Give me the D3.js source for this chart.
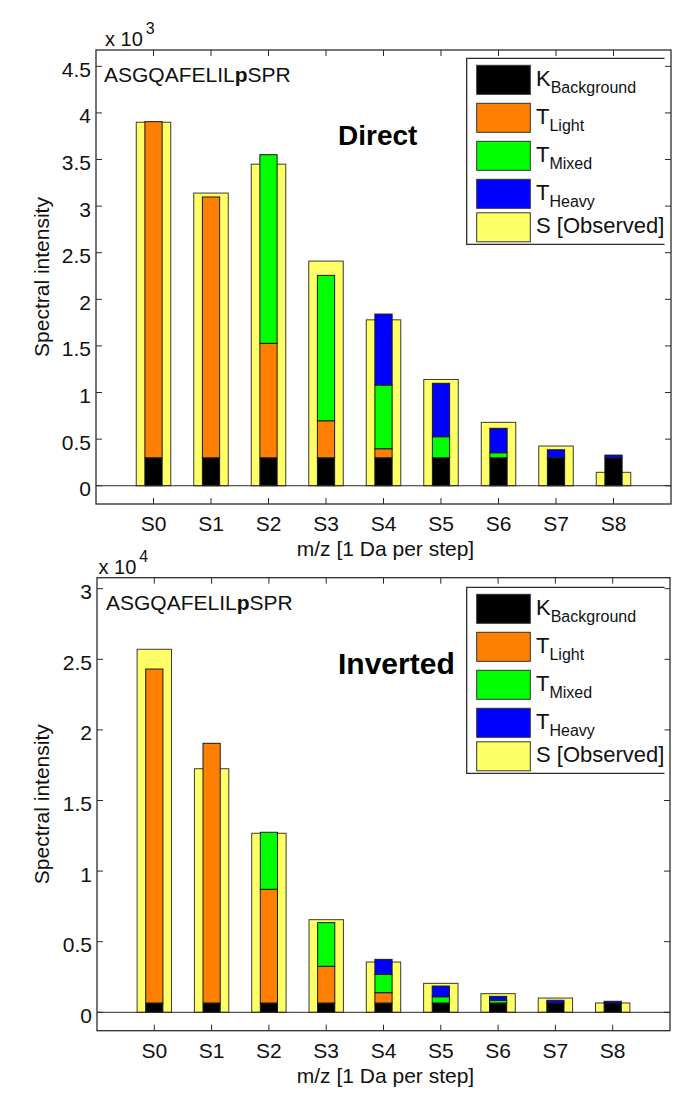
<!DOCTYPE html>
<html>
<head>
<meta charset="utf-8">
<script src="https://cdn.jsdelivr.net/npm/d3@7"></script>
<style>
  html, body { margin: 0; padding: 0; background: #fff; }
  svg { display: block; font-family: "Liberation Sans", Arial, Helvetica, sans-serif; }
</style>
</head>
<body>
<svg id="chart" width="685" height="1110"></svg>
<script>
// ---------- data ----------
const categories = ["S0", "S1", "S2", "S3", "S4", "S5", "S6", "S7", "S8"];

// Direct (x 10^3)
const directObserved   = [3900, 3140, 3450, 2410, 1780, 1140, 680, 426, 144];
const directBackground = [300, 300, 300, 300, 300, 300, 300, 300, 300];
const directLight      = [3606, 2798, 1228, 397, 97, 0, 0, 0, 0];
const directMixed      = [0, 0, 2024, 1560, 683, 226, 54, 0, 0];
const directHeavy      = [0, 0, 0, 0, 762, 573, 262, 86, 29];
const directTickLabels = ["0", "0.5", "1", "1.5", "2", "2.5", "3", "3.5", "4", "4.5"];

// Inverted (x 10^4)
const invObserved   = [25710, 17250, 12680, 6560, 3560, 2050, 1320, 1010, 660];
const invBackground = [660, 660, 660, 660, 660, 660, 660, 660, 660];
const invLight      = [23650, 18390, 8050, 2600, 730, 0, 0, 0, 0];
const invMixed      = [0, 0, 4040, 3090, 1300, 440, 190, 0, 0];
const invHeavy      = [0, 0, 0, 0, 1060, 760, 280, 190, 120];
const invTickLabels = ["0", "0.5", "1", "1.5", "2", "2.5", "3"];

const legendMain = ["K", "T", "T", "T", "S [Observed]"];
const legendSub  = ["Background", "Light", "Mixed", "Heavy", ""];
const peptide = ["ASGQAFELIL", "p", "SPR"];
const xLabel = "m/z [1 Da per step]";
const yLabel = "Spectral intensity";

const colors = {
  background: "#000000",
  light: "#FF8000",
  mixed: "#00FF00",
  heavy: "#0000FF",
  observed: "#FFFF66"
};
const legendColors = [colors.background, colors.light, colors.mixed, colors.heavy, colors.observed];

const svg = d3.select("#chart");
const axisColor = "#2b2b2b";

function drawPanel(p) {
  const g = svg.append("g");
  const x = d3.scaleLinear().domain([-1, 9]).range([p.left, p.right]);
  const y = d3.scaleLinear().domain([p.yMin, p.yMax]).range([p.bottom, p.top]);
  const idx = categories.map((c, i) => i);

  // observed (yellow, wide)
  g.selectAll("rect.obs").data(idx).enter().append("rect")
    .attr("x", i => x(i - 0.3))
    .attr("width", i => x(i + 0.3) - x(i - 0.3))
    .attr("y", i => y(p.observed[i]))
    .attr("height", i => y(0) - y(p.observed[i]))
    .attr("fill", colors.observed)
    .attr("stroke", "#3a3a3a").attr("stroke-width", 1);

  // stacked (narrow)
  const keys = ["background", "light", "mixed", "heavy"];
  const rows = idx.map(i => ({ i, background: p.background[i], light: p.light[i], mixed: p.mixed[i], heavy: p.heavy[i] }));
  const stack = d3.stack().keys(keys)(rows);
  stack.forEach(layer => {
    g.selectAll(null).data(layer.filter(d => d[1] - d[0] > 0)).enter().append("rect")
      .attr("x", d => x(d.data.i - 0.15))
      .attr("width", d => x(d.data.i + 0.15) - x(d.data.i - 0.15))
      .attr("y", d => y(d[1]))
      .attr("height", d => y(d[0]) - y(d[1]))
      .attr("fill", colors[layer.key])
      .attr("stroke", "#1a1a1a").attr("stroke-width", 1);
  });

  // zero line
  g.append("line")
    .attr("x1", p.left).attr("x2", p.right)
    .attr("y1", y(0)).attr("y2", y(0))
    .attr("stroke", axisColor).attr("stroke-width", 1);

  // axes box
  g.append("rect")
    .attr("x", p.left).attr("y", p.top)
    .attr("width", p.right - p.left).attr("height", p.bottom - p.top)
    .attr("fill", "none").attr("stroke", axisColor).attr("stroke-width", 1.3);

  const tickLen = 6;
  const yTickVals = p.tickLabels.map(t => +t * p.scale);
  yTickVals.forEach((v, k) => {
    g.append("line").attr("x1", p.left).attr("x2", p.left + tickLen)
      .attr("y1", y(v)).attr("y2", y(v)).attr("stroke", axisColor);
    g.append("line").attr("x1", p.right).attr("x2", p.right - tickLen)
      .attr("y1", y(v)).attr("y2", y(v)).attr("stroke", axisColor);
    g.append("text").attr("x", p.left - 5).attr("y", y(v) + 10.5)
      .attr("text-anchor", "end").attr("font-size", 21).attr("fill", "#111")
      .text(p.tickLabels[k]);
  });
  idx.forEach(i => {
    g.append("line").attr("x1", x(i)).attr("x2", x(i))
      .attr("y1", p.bottom).attr("y2", p.bottom - tickLen).attr("stroke", axisColor);
    g.append("line").attr("x1", x(i)).attr("x2", x(i))
      .attr("y1", p.top).attr("y2", p.top + tickLen).attr("stroke", axisColor);
    g.append("text").attr("x", x(i)).attr("y", p.bottom + 27)
      .attr("text-anchor", "middle").attr("font-size", 21).attr("fill", "#111")
      .text(categories[i]);
  });

  // exponent label
  const ex = g.append("text").attr("x", p.expX).attr("y", p.top - 4)
    .attr("font-size", 20).attr("fill", "#111");
  ex.append("tspan").text("x 10");
  ex.append("tspan").attr("dx", 3).attr("dy", -12).attr("font-size", 16).text(p.exponent);

  // peptide sequence
  const seq = g.append("text").attr("x", p.seqX).attr("y", p.top + 32)
    .attr("font-size", 21).attr("fill", "#111");
  seq.append("tspan").text(peptide[0]);
  seq.append("tspan").attr("font-weight", "bold").text(peptide[1]);
  seq.append("tspan").text(peptide[2]);

  // title
  g.append("text").attr("x", 338).attr("y", p.titleY)
    .attr("font-size", p.titleSize).attr("font-weight", "bold").attr("fill", "#000")
    .text(p.title);

  // axis labels
  g.append("text").attr("x", (p.left + p.right) / 2 + 2).attr("y", p.bottom + 52)
    .attr("text-anchor", "middle").attr("font-size", 21).attr("fill", "#111")
    .text(xLabel);
  g.append("text")
    .attr("transform", `translate(48.5,${(p.top + p.bottom) / 2}) rotate(-90)`)
    .attr("text-anchor", "middle").attr("font-size", 21).attr("fill", "#111")
    .text(yLabel);

  // legend
  const lt = p.legendTop, ll = 466.7, lr = 664.5, lb = lt + 186;
  g.append("rect").attr("x", ll).attr("y", lt).attr("width", lr - ll).attr("height", lb - lt)
    .attr("fill", "#fff").attr("stroke", "none");
  g.append("path").attr("d", `M${lr},${lt}H${ll}V${lb}H${lr}`)
    .attr("fill", "none").attr("stroke", axisColor).attr("stroke-width", 1.3);
  const offs = [21.5, 59.5, 97.5, 135.5, 169];
  offs.forEach((o, k) => {
    const cy = lt + o;
    g.append("rect").attr("x", 476.7).attr("y", cy - 14.5).attr("width", 53.6).attr("height", 29)
      .attr("fill", legendColors[k]).attr("stroke", "#333").attr("stroke-width", 1);
    const t = g.append("text").attr("x", 536).attr("y", cy + 6)
      .attr("font-size", 22).attr("fill", "#111");
    t.append("tspan").text(legendMain[k]);
    if (legendSub[k]) t.append("tspan").attr("dy", 7).attr("font-size", 16).text(legendSub[k]);
  });
}

drawPanel({
  observed: directObserved, background: directBackground, light: directLight,
  mixed: directMixed, heavy: directHeavy, tickLabels: directTickLabels,
  scale: 1000, exponent: "3",
  left: 96, right: 671, top: 50, bottom: 504, yMin: -196, yMax: 4675,
  expX: 105, seqX: 104, title: "Direct", titleSize: 28, titleY: 145, legendTop: 58.3
});

drawPanel({
  observed: invObserved, background: invBackground, light: invLight,
  mixed: invMixed, heavy: invHeavy, tickLabels: invTickLabels,
  scale: 10000, exponent: "4",
  left: 97, right: 670, top: 577.7, bottom: 1030.7, yMin: -1303, yMax: 30779,
  expX: 98.5, seqX: 106, title: "Inverted", titleSize: 30, titleY: 674, legendTop: 587.3
});
</script>
</body>
</html>
